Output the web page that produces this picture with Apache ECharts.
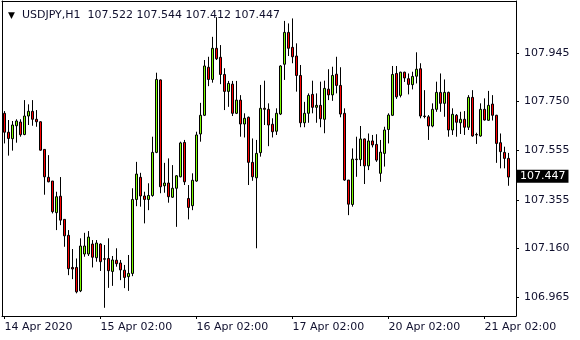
<!DOCTYPE html>
<html><head><meta charset="utf-8">
<script src="https://cdn.jsdelivr.net/npm/echarts@6/dist/echarts.min.js"></script>
<style>html,body{margin:0;padding:0;background:#fff}#c{width:580px;height:340px}</style>
</head><body><div id="c"></div>
<script>
const symbolName = 'USDJPY,H1';
const opens = [107.703,107.627,107.601,107.653,107.668,107.618,107.692,107.711,107.679,107.669,
107.558,107.446,107.431,107.304,107.370,107.277,107.213,107.084,107.084,106.990,
107.138,107.138,107.178,107.123,107.178,107.119,107.120,107.068,107.113,107.102,
107.073,107.047,107.060,107.357,107.446,107.371,107.357,107.373,107.546,107.837,
107.412,107.423,107.366,107.402,107.448,107.586,107.361,107.332,107.431,107.620,
107.695,107.888,107.839,107.964,107.928,107.859,107.791,107.820,107.703,107.756,
107.660,107.687,107.506,107.444,107.545,107.723,107.719,107.659,107.631,107.700,
107.900,108.028,107.968,107.933,107.855,107.665,107.703,107.779,107.727,107.735,
107.679,107.800,107.777,107.860,107.815,107.703,107.435,107.337,107.519,107.517,
107.600,107.492,107.592,107.578,107.462,107.542,107.638,107.695,107.863,107.775,
107.868,107.842,107.818,107.852,107.882,107.692,107.689,107.652,107.719,107.787,
107.743,107.787,107.636,107.695,107.665,107.679,107.647,107.767,107.618,107.612,
107.719,107.675,107.740,107.695,107.585,107.546,107.522];
const highs = [107.712,107.676,107.672,107.679,107.679,107.756,107.739,107.756,107.716,107.671,
107.558,107.535,107.431,107.388,107.447,107.277,107.234,107.158,107.120,107.201,
107.223,107.230,107.194,107.194,107.181,107.174,107.201,107.130,107.161,107.114,
107.094,107.134,107.402,107.508,107.464,107.388,107.422,107.609,107.866,107.839,
107.504,107.522,107.495,107.455,107.589,107.596,107.415,107.462,107.629,107.745,
107.917,107.930,108.010,108.089,107.977,107.884,107.833,107.833,107.833,107.776,
107.703,107.690,107.602,107.596,107.817,107.834,107.743,107.683,107.723,107.896,
108.074,108.064,108.084,107.984,107.897,107.749,107.783,107.834,107.783,107.830,
107.834,107.880,107.890,107.930,107.888,107.723,107.435,107.562,107.609,107.652,
107.602,107.622,107.616,107.619,107.596,107.649,107.703,107.893,107.893,107.870,
107.870,107.863,107.870,107.948,107.904,107.796,107.696,107.743,107.830,107.863,
107.839,107.790,107.723,107.700,107.709,107.712,107.776,107.796,107.625,107.743,
107.763,107.793,107.776,107.697,107.622,107.569,107.544];
const lows = [107.582,107.533,107.553,107.585,107.609,107.615,107.656,107.653,107.649,107.553,
107.376,107.426,107.301,107.234,107.254,107.167,107.053,107.037,106.980,106.985,
107.127,107.130,107.084,107.107,107.070,106.922,107.002,107.010,107.087,107.033,
107.001,106.990,107.049,107.330,107.328,107.261,107.314,107.368,107.543,107.382,
107.384,107.344,107.363,107.247,107.446,107.415,107.277,107.314,107.428,107.589,
107.692,107.812,107.826,107.917,107.820,107.716,107.729,107.692,107.700,107.609,
107.606,107.415,107.432,107.161,107.529,107.656,107.571,107.606,107.616,107.696,
107.837,107.933,107.904,107.790,107.647,107.647,107.665,107.703,107.665,107.647,
107.623,107.756,107.753,107.783,107.687,107.432,107.294,107.328,107.448,107.491,
107.419,107.475,107.566,107.508,107.428,107.489,107.582,107.692,107.761,107.767,
107.829,107.779,107.799,107.823,107.683,107.683,107.596,107.647,107.709,107.709,
107.689,107.609,107.616,107.609,107.620,107.616,107.636,107.609,107.580,107.609,
107.674,107.673,107.674,107.504,107.482,107.482,107.412];
const closes = [107.627,107.602,107.656,107.672,107.617,107.692,107.711,107.679,107.669,107.555,
107.448,107.428,107.308,107.368,107.274,107.211,107.079,107.078,106.986,107.170,
107.170,107.206,107.125,107.182,107.107,107.117,107.071,107.114,107.099,107.074,
107.044,107.060,107.357,107.459,107.371,107.357,107.373,107.546,107.839,107.408,
107.423,107.368,107.402,107.452,107.584,107.428,107.325,107.434,107.616,107.695,
107.893,107.839,107.964,107.922,107.859,107.791,107.823,107.703,107.756,107.660,
107.683,107.506,107.448,107.542,107.723,107.719,107.656,107.629,107.703,107.893,
108.028,107.964,107.930,107.855,107.665,107.703,107.775,107.727,107.735,107.681,
107.803,107.777,107.855,107.815,107.700,107.435,107.338,107.519,107.517,107.600,
107.492,107.592,107.576,107.515,107.547,107.636,107.696,107.859,107.769,107.868,
107.845,107.819,107.851,107.880,107.692,107.690,107.652,107.719,107.787,107.743,
107.787,107.636,107.699,107.667,107.679,107.647,107.767,107.612,107.616,107.719,
107.676,107.735,107.695,107.582,107.549,107.522,107.447];
const xTickIdx = [0, 24, 48, 72, 96, 120];
const xTickLabels = ['14 Apr 2020', '15 Apr 02:00', '16 Apr 02:00', '17 Apr 02:00', '20 Apr 02:00', '21 Apr 02:00'];
const yTickValues = [106.965, 107.160, 107.355, 107.555, 107.750, 107.945];

const last = closes.length - 1;
const candles = opens.map((o, i) => [i, o, closes[i], lows[i], highs[i]]);
const headerText = symbolName + '  ' + [opens[last], highs[last], lows[last], closes[last]].map(v => v.toFixed(3)).join(' ');

const FONT = 'DejaVu Sans';
const TXT = '#10102e';
const X_MIN = -0.625, X_MAX = 127.875, Y_MIN = 106.889, Y_MAX = 108.154;

const chart = echarts.init(document.getElementById('c'), null, {renderer: 'canvas'});
chart.setOption({
  animation: false,
  backgroundColor: '#ffffff',
  title: {
    left: 3, top: 5,
    text: '{t|▼}  ' + headerText,
    textStyle: {
      fontFamily: FONT, fontSize: 11, fontWeight: 'normal', color: TXT,
      rich: {t: {fontFamily: FONT, fontSize: 9, color: '#000'}}
    }
  },
  grid: {left: 2, top: 1, width: 514, height: 315, show: false},
  xAxis: [{
    type: 'value', min: X_MIN, max: X_MAX,
    axisLine: {show: true, onZero: false, lineStyle: {color: '#000', width: 1}},
    axisTick: {show: true, length: 3, customValues: xTickIdx, lineStyle: {color: '#000'}},
    axisLabel: {
      customValues: xTickIdx, align: 'left', margin: 6,
      fontFamily: FONT, fontSize: 11, color: TXT,
      formatter: v => xTickLabels[xTickIdx.indexOf(Math.round(v))] || ''
    },
    splitLine: {show: false}
  }, {
    type: 'value', position: 'top', min: X_MIN, max: X_MAX,
    axisLine: {show: true, onZero: false, lineStyle: {color: '#000', width: 1}},
    axisTick: {show: false}, axisLabel: {show: false}, splitLine: {show: false}
  }],
  yAxis: [{
    type: 'value', position: 'right', min: Y_MIN, max: Y_MAX,
    axisLine: {show: true, onZero: false, lineStyle: {color: '#000', width: 1}},
    axisTick: {show: true, length: 3, customValues: yTickValues, lineStyle: {color: '#000'}},
    axisLabel: {
      customValues: yTickValues, margin: 8,
      fontFamily: FONT, fontSize: 11, color: TXT,
      formatter: v => v.toFixed(3)
    },
    splitLine: {show: false}
  }, {
    type: 'value', position: 'left', min: Y_MIN, max: Y_MAX,
    axisLine: {show: true, onZero: false, lineStyle: {color: '#000', width: 1}},
    axisTick: {show: false}, axisLabel: {show: false}, splitLine: {show: false}
  }],
  series: [{
    type: 'candlestick',
    xAxisIndex: 0, yAxisIndex: 0,
    data: candles,
    encode: {x: 0, y: [1, 2, 3, 4]},
    barWidth: 2,
    itemStyle: {
      color: '#7CFC00', color0: '#FF0000',
      borderColor: '#000000', borderColor0: '#000000', borderWidth: 1
    },
    markLine: {
      silent: true, symbol: ['none', 'none'],
      lineStyle: {color: 'rgba(0,0,0,0)', width: 0},
      data: [{yAxis: closes[last]}],
      label: {
        show: true, position: 'end', distance: 1,
        formatter: () => closes[last].toFixed(3),
        backgroundColor: '#000', color: '#fff',
        fontFamily: FONT, fontSize: 11, padding: [1, 3, 1, 3]
      }
    }
  }]
});
</script></body></html>
